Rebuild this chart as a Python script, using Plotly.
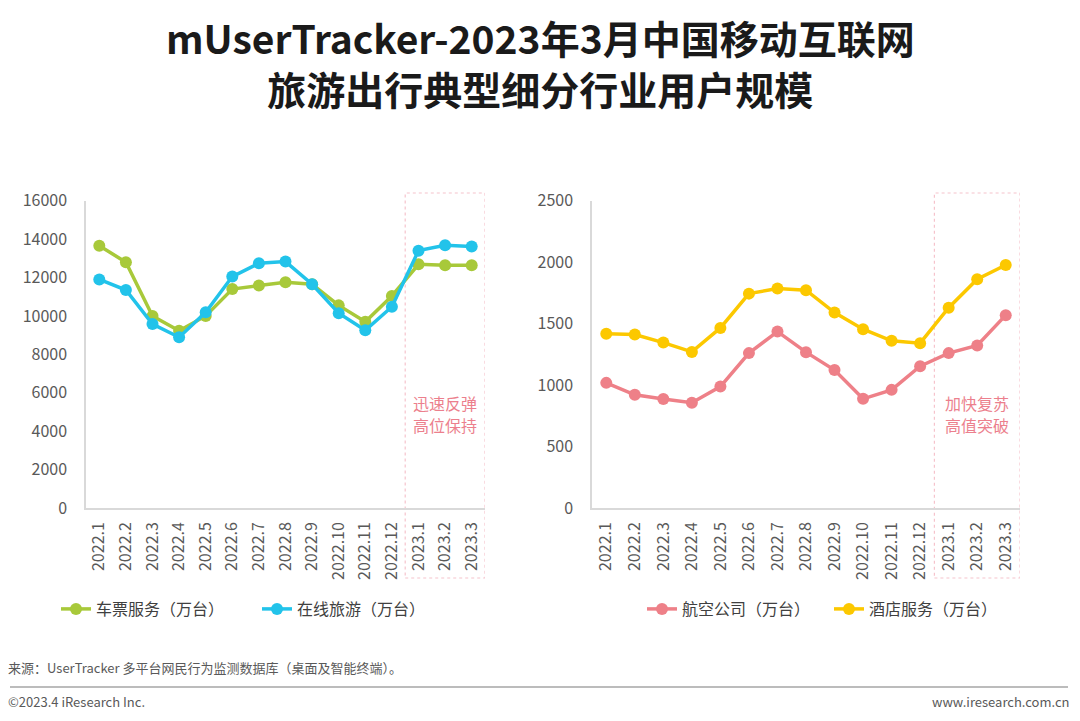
import plotly.graph_objects as go

months = ["2022.1", "2022.2", "2022.3", "2022.4", "2022.5", "2022.6", "2022.7", "2022.8",
          "2022.9", "2022.10", "2022.11", "2022.12", "2023.1", "2023.2", "2023.3"]

ticket_service = [13650, 12800, 10000, 9230, 10000, 11400, 11580, 11750,
                  11650, 10550, 9700, 11040, 12690, 12640, 12640]
online_travel = [11900, 11350, 9580, 8890, 10190, 12050, 12740, 12830,
                 11650, 10140, 9250, 10480, 13400, 13680, 13610]
airlines = [1018, 921, 886, 856, 988, 1260, 1435, 1268,
            1122, 888, 961, 1154, 1260, 1322, 1569]
hotels = [1417, 1411, 1346, 1270, 1465, 1744, 1785, 1772,
          1590, 1455, 1360, 1341, 1630, 1861, 1977]

FONT = "Noto Sans CJK SC"
W, H = 1080, 721


def px(x):
    return x / W


def py(y):
    return 1 - y / H


fig = go.Figure()

series = [
    ("车票服务（万台）", ticket_service, "#a8c93a", "x", "y", "legend"),
    ("在线旅游（万台）", online_travel, "#22c3ea", "x", "y", "legend"),
    ("航空公司（万台）", airlines, "#ee8088", "x2", "y2", "legend2"),
    ("酒店服务（万台）", hotels, "#fcc800", "x2", "y2", "legend2"),
]
for name, vals, color, xa, ya, lg in series:
    fig.add_trace(go.Scatter(
        x=months, y=vals, name=name, mode="lines+markers",
        line=dict(color=color, width=3.5),
        marker=dict(color=color, size=12),
        xaxis=xa, yaxis=ya, legend=lg,
    ))

axis_common = dict(showgrid=False, zeroline=False, showline=True, automargin=False,
                   linecolor="#d9d9d9", linewidth=1.5, ticks="")
ytick_font = dict(family=FONT, size=16, color="#595959")
xtick_font = dict(family=FONT, size=16, color="#595959")

fig.update_layout(
    width=W, height=H,
    margin=dict(l=0, r=0, t=0, b=0),
    paper_bgcolor="white", plot_bgcolor="white",
    font=dict(family=FONT),
    xaxis=dict(domain=[px(86), px(485)], type="category", range=[-0.5, 14.5],
               tickangle=-90, ticklabelstandoff=6, anchor="y",
               tickfont=xtick_font, **axis_common),
    yaxis=dict(domain=[py(508), py(200.7)], range=[0, 16000], dtick=2000, tickformat="d",
               ticklabelstandoff=14, anchor="x", tickfont=ytick_font, **axis_common),
    xaxis2=dict(domain=[px(592), px(1020)], type="category", range=[-0.5, 14.5],
                tickangle=-90, ticklabelstandoff=6, anchor="y2",
                tickfont=xtick_font, **axis_common),
    yaxis2=dict(domain=[py(508), py(200.7)], range=[0, 2500], dtick=500, tickformat="d",
                ticklabelstandoff=14, anchor="x2", tickfont=ytick_font, **axis_common),
    legend=dict(orientation="h", x=px(56), y=py(609), xanchor="left", yanchor="middle",
                font=dict(family=FONT, size=16, color="#404040"),
                entrywidth=156, bgcolor="rgba(0,0,0,0)"),
    legend2=dict(orientation="h", x=px(642), y=py(609), xanchor="left", yanchor="middle",
                 font=dict(family=FONT, size=16, color="#404040"),
                 entrywidth=142, bgcolor="rgba(0,0,0,0)"),
    showlegend=True,
)

# dashed highlight boxes over the last three months
for xa in ("x", "x2"):
    fig.add_shape(type="rect", xref=xa, yref="paper",
                  x0=11.5, x1=14.5, y0=py(578), y1=py(193),
                  line=dict(color="#f6c3cc", width=1.2, dash="dot"),
                  fillcolor="rgba(0,0,0,0)", layer="below")

notes = [("x", "迅速反弹", "高位保持"), ("x2", "加快复苏", "高值突破")]
for xa, line1, line2 in notes:
    for txt, yy in ((line1, 403), (line2, 425)):
        fig.add_annotation(xref=xa, yref="paper", x=13, y=py(yy), yanchor="middle",
                           text=txt, showarrow=False,
                           font=dict(family=FONT, size=16, color="#ec7f8d"))

# title
fig.add_annotation(xref="paper", yref="paper", x=0.5, y=py(63), yanchor="middle",
                   text="<b>mUserTracker-2023年3月中国移动互联网<br>旅游出行典型细分行业用户规模</b>",
                   showarrow=False, align="center",
                   font=dict(family=FONT, size=39, color="#1a1a1a"))

# footer
fig.add_annotation(xref="paper", yref="paper", x=px(6), y=py(667), xanchor="left",
                   yanchor="middle",
                   text="来源：UserTracker 多平台网民行为监测数据库（桌面及智能终端）。",
                   showarrow=False, font=dict(family=FONT, size=13, color="#595959"))
fig.add_shape(type="line", xref="paper", yref="paper", x0=px(10), x1=px(1068),
              y0=py(687), y1=py(687), line=dict(color="#a6a6a6", width=1.5))
fig.add_annotation(xref="paper", yref="paper", x=px(6), y=py(701), xanchor="left",
                   yanchor="middle", text="©2023.4 iResearch Inc.", showarrow=False,
                   font=dict(family=FONT, size=13, color="#595959"))
fig.add_annotation(xref="paper", yref="paper", x=px(1072), y=py(701), xanchor="right",
                   yanchor="middle", text="www.iresearch.com.cn", showarrow=False,
                   font=dict(family=FONT, size=13, color="#595959"))

fig.write_html("out.html", config={"displayModeBar": False},
               post_script="document.body.style.margin='0';document.body.style.overflow='hidden';")
